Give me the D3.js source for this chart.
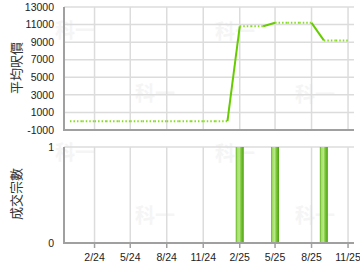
<!DOCTYPE html>
<html>
<head>
<meta charset="utf-8">
<script src="https://cdn.jsdelivr.net/npm/d3@7"></script>
<style>
  body { margin: 0; background: #fff; }
  svg { display: block; font-family: "Liberation Sans", Arial, sans-serif; }
</style>
</head>
<body>
<script>
// monthly data, Dec 2023 .. Nov 2025
var months = ["2023-12","2024-01","2024-02","2024-03","2024-04","2024-05","2024-06","2024-07",
              "2024-08","2024-09","2024-10","2024-11","2024-12","2025-01","2025-02","2025-03",
              "2025-04","2025-05","2025-06","2025-07","2025-08","2025-09","2025-10","2025-11"];
var avgPrice = [0,0,0,0,0,0,0,0,0,0,0,0,0,0,10800,10800,10800,11200,11200,11200,11200,9200,9200,9200];
var deals    = [0,0,0,0,0,0,0,0,0,0,0,0,0,0,1,0,0,1,0,0,0,1,0,0];

var tickDates  = ["2024-02","2024-05","2024-08","2024-11","2025-02","2025-05","2025-08","2025-11"];
var tickLabels = ["2/24","5/24","8/24","11/24","2/25","5/25","8/25","11/25"];
var priceTicks = [-1000,1000,3000,5000,7000,9000,11000,13000];
var dealTicks  = [0,1];

var parseMonth = d3.timeParse("%Y-%m");
var data = months.map(function(m, i) {
  return { date: parseMonth(m), price: avgPrice[i], deals: deals[i] };
});

var svg = d3.select("body").append("svg").attr("width", 360).attr("height", 270);

var x = d3.scaleTime()
    .domain([new Date(2023, 10, 16), new Date(2025, 10, 16)])
    .range([64, 354]);
var yTop = d3.scaleLinear().domain([-1000, 13000]).range([130, 7]);
var yBot = d3.scaleLinear().domain([0, 1]).range([243, 147]);

// faint watermark
var marks = [[55,38],[215,39],[135,101],[295,102],[55,160],[215,161],[135,223],[295,223]];
svg.selectAll(".wm").data(marks).enter().append("text")
    .attr("x", function(d) { return d[0]; })
    .attr("y", function(d) { return d[1]; })
    .attr("font-family", "Noto Sans CJK TC")
    .attr("font-weight", "bold")
    .attr("font-size", 20)
    .attr("fill", "#f5f5f5")
    .text("科一");

var gridColor = "#dcdcdc", axisColor = "#a0a0a0";
var tickDateObjs = tickDates.map(parseMonth);

// ---- top chart ----
var gTop = svg.append("g");
gTop.selectAll(".hg").data(priceTicks.slice(1)).enter().append("line")
    .attr("x1", 64).attr("x2", 354)
    .attr("y1", function(d) { return yTop(d); }).attr("y2", function(d) { return yTop(d); })
    .attr("stroke", gridColor).attr("stroke-width", 1.5);
gTop.selectAll(".vg").data(tickDateObjs).enter().append("line")
    .attr("x1", function(d) { return x(d); }).attr("x2", function(d) { return x(d); })
    .attr("y1", 7).attr("y2", 130)
    .attr("stroke", gridColor).attr("stroke-width", 1.5);
gTop.append("line").attr("x1", 64).attr("x2", 64).attr("y1", 7).attr("y2", 131)
    .attr("stroke", axisColor).attr("stroke-width", 2);
gTop.append("line").attr("x1", 63).attr("x2", 354).attr("y1", 130).attr("y2", 130)
    .attr("stroke", axisColor).attr("stroke-width", 2);
gTop.selectAll(".yl").data(priceTicks).enter().append("text")
    .attr("x", 54).attr("y", function(d) { return yTop(d); })
    .attr("dy", "0.35em").attr("text-anchor", "end")
    .attr("font-size", 10.5).attr("fill", "#222")
    .text(function(d) { return d; });
gTop.append("text")
    .attr("transform", "translate(21,68) rotate(-90)")
    .attr("text-anchor", "middle")
    .attr("font-family", "Noto Sans CJK TC").attr("font-size", 13).attr("fill", "#333")
    .text("平均呎價");

// line segments: solid into a month with deals, dotted otherwise
var segs = d3.pairs(data);
gTop.selectAll(".seg").data(segs).enter().append("line")
    .attr("x1", function(d) { return x(d[0].date); })
    .attr("y1", function(d) { return yTop(d[0].price); })
    .attr("x2", function(d) { return x(d[1].date); })
    .attr("y2", function(d) { return yTop(d[1].price); })
    .attr("stroke", function(d) { return d[1].deals > 0 ? "#66cc00" : "#88dd22"; })
    .attr("stroke-width", 2)
    .attr("stroke-dasharray", function(d) { return d[1].deals > 0 ? null : "1.5,2"; });

// ---- bottom chart ----
var defs = svg.append("defs");
var grad = defs.append("linearGradient").attr("id", "barGrad")
    .attr("x1", "0%").attr("x2", "100%").attr("y1", "0%").attr("y2", "0%");
[["0%","#5cb01c"],["20%","#a6df6a"],["45%","#b8e888"],["65%","#7cc83a"],["100%","#4e9e12"]]
  .forEach(function(s) { grad.append("stop").attr("offset", s[0]).attr("stop-color", s[1]); });

var gBot = svg.append("g");
gBot.append("line").attr("x1", 64).attr("x2", 354).attr("y1", yBot(1)).attr("y2", yBot(1))
    .attr("stroke", gridColor).attr("stroke-width", 1.5);
gBot.selectAll(".vg").data(tickDateObjs).enter().append("line")
    .attr("x1", function(d) { return x(d); }).attr("x2", function(d) { return x(d); })
    .attr("y1", 147).attr("y2", 243)
    .attr("stroke", gridColor).attr("stroke-width", 1.5);

gBot.selectAll(".bar").data(data.filter(function(d) { return d.deals > 0; })).enter().append("rect")
    .attr("x", function(d) { return x(d.date) - 4; })
    .attr("width", 8)
    .attr("y", function(d) { return yBot(d.deals); })
    .attr("height", function(d) { return yBot(0) - yBot(d.deals); })
    .attr("fill", "url(#barGrad)");

gBot.append("line").attr("x1", 64).attr("x2", 64).attr("y1", 147).attr("y2", 244)
    .attr("stroke", axisColor).attr("stroke-width", 2);
gBot.append("line").attr("x1", 63).attr("x2", 354).attr("y1", 243).attr("y2", 243)
    .attr("stroke", axisColor).attr("stroke-width", 2);
gBot.selectAll(".tk").data(tickDateObjs).enter().append("line")
    .attr("x1", function(d) { return x(d); }).attr("x2", function(d) { return x(d); })
    .attr("y1", 243).attr("y2", 248)
    .attr("stroke", axisColor).attr("stroke-width", 1.5);
gBot.selectAll(".xl").data(tickDateObjs).enter().append("text")
    .attr("x", function(d) { return x(d); }).attr("y", 261)
    .attr("text-anchor", "middle").attr("font-size", 10.5).attr("fill", "#222")
    .text(function(d, i) { return tickLabels[i]; });
gBot.selectAll(".yl").data(dealTicks).enter().append("text")
    .attr("x", 54).attr("y", function(d) { return yBot(d); })
    .attr("dy", "0.35em").attr("text-anchor", "end")
    .attr("font-size", 10.5).attr("fill", "#222")
    .text(function(d) { return d; });
gBot.append("text")
    .attr("transform", "translate(21,194) rotate(-90)")
    .attr("text-anchor", "middle")
    .attr("font-family", "Noto Sans CJK TC").attr("font-size", 13).attr("fill", "#333")
    .text("成交宗數");
</script>
</body>
</html>
